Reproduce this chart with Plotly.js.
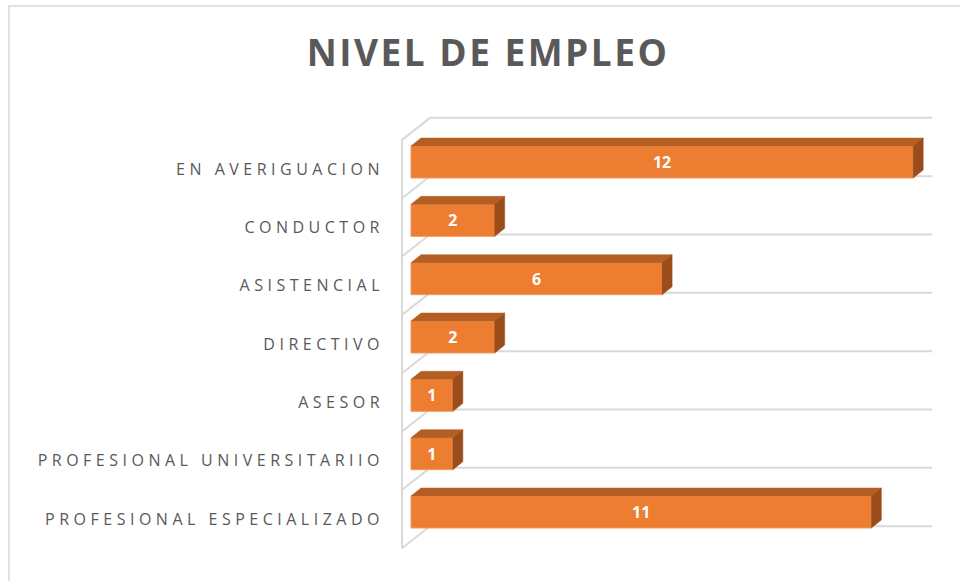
<!DOCTYPE html>
<html>
<head>
<meta charset="utf-8">
<script src="https://cdn.plot.ly/plotly-3.0.1.min.js"></script>
<style>
  html, body { margin: 0; padding: 0; background: #fff; }
  #chart { width: 960px; height: 581px; }
  .gtitle { letter-spacing: 2.5px; }
  .ytick text { letter-spacing: 4.5px; }
</style>
</head>
<body>
<div id="chart"></div>
<script>
// ---- data ----
const categories = ['PROFESIONAL ESPECIALIZADO', 'PROFESIONAL UNIVERSITARIIO', 'ASESOR', 'DIRECTIVO', 'ASISTENCIAL', 'CONDUCTOR', 'EN AVERIGUACION'];
const values = [11, 1, 1, 2, 6, 2, 12];
const axisMax = 12;
const chartTitle = 'NIVEL DE EMPLEO';

// ---- geometry (pixels, y down positive) ----
const W = 960, H = 581;
const plotLeft = 392;
const zeroPx = 411, unitPx = 41.85;
const bottomCenterPx = 512, bandPx = 58.33;
const barPx = 32;
const barDepth = { dx: 10, dy: -8 };
const wallFront = { dx: -9, dy: 7 };
const wallBack = { dx: 19, dy: -15 };

const px2x = d => d / unitPx;
const px2y = d => -d / bandPx;

const idx = categories.map((c, i) => i);
const barW = barPx / bandPx;
const bdx = px2x(barDepth.dx), bdy = px2y(barDepth.dy);
const fdx = px2x(wallFront.dx), fdy = px2y(wallFront.dy);
const kdx = px2x(wallBack.dx), kdy = px2y(wallBack.dy);

// top & side faces
const topX = [], topY = [], sideX = [], sideY = [];
idx.forEach(i => {
  const v = values[i];
  const yt = i + barW / 2, yb = i - barW / 2;
  topX.push(0, v, v + bdx, bdx, 0, null);
  topY.push(yt, yt, yt + bdy, yt + bdy, yt, null);
  sideX.push(v, v + bdx, v + bdx, v, v, null);
  sideY.push(yt, yt + bdy, yb + bdy, yb, yt, null);
});

// wall / gridline shapes
const gridColor = '#D9D9D9';
const shapes = [];
for (let k = 0; k <= categories.length; k++) {
  const b = k - 0.5;
  shapes.push({ type: 'line', xref: 'x', yref: 'y', layer: 'below',
    x0: kdx, y0: b + kdy, x1: axisMax + kdx, y1: b + kdy,
    line: { color: gridColor, width: 2 } });
  shapes.push({ type: 'line', xref: 'x', yref: 'y', layer: 'below',
    x0: fdx, y0: b + fdy, x1: kdx, y1: b + kdy,
    line: { color: gridColor, width: 2 } });
}
shapes.push({ type: 'line', xref: 'x', yref: 'y', layer: 'below',
  x0: fdx, y0: -0.5 + fdy, x1: fdx, y1: categories.length - 0.5 + fdy,
  line: { color: gridColor, width: 2 } });
// chart border
shapes.push({ type: 'rect', xref: 'paper', yref: 'paper', layer: 'below',
  x0: 9 / W, y0: -0.05, x1: 1.05, y1: 1 - 6 / H,
  line: { color: '#D9D9D9', width: 1.5 }, fillcolor: 'rgba(0,0,0,0)' });

const traces = [
  {
    type: 'bar', orientation: 'h', x: values, y: idx, width: barW, base: 0,
    marker: { color: '#ED7D31', line: { color: '#F19A5E', width: 1 } },
    text: values.map(String), textposition: 'inside', insidetextanchor: 'middle',
    textfont: { family: 'Open Sans', size: 16, color: '#FFFFFF', weight: 'bold' },
    constraintext: 'none', hoverinfo: 'skip', cliponaxis: false
  },
  {
    type: 'scatter', mode: 'lines', x: topX, y: topY, fill: 'toself',
    fillcolor: '#B55E23', line: { width: 0.5, color: '#B55E23' }, hoverinfo: 'skip'
  },
  {
    type: 'scatter', mode: 'lines', x: sideX, y: sideY, fill: 'toself',
    fillcolor: '#9A4D1B', line: { width: 0.5, color: '#9A4D1B' }, hoverinfo: 'skip'
  }
];

const layout = {
  width: W, height: H,
  margin: { l: 0, r: 0, t: 0, b: 0 },
  paper_bgcolor: '#FFFFFF', plot_bgcolor: 'rgba(0,0,0,0)',
  showlegend: false,
  title: {
    text: chartTitle, xref: 'paper', yref: 'paper',
    x: 488 / W, xanchor: 'center', y: 1 - 53 / H, yanchor: 'middle',
    font: { family: 'Open Sans', size: 37, color: '#595959', weight: 'bold' }
  },
  xaxis: {
    domain: [plotLeft / W, 1],
    range: [(plotLeft - zeroPx) / unitPx, (W - zeroPx) / unitPx],
    showgrid: false, zeroline: false, showticklabels: false, showline: false, fixedrange: true
  },
  yaxis: {
    domain: [0, 1],
    range: [(bottomCenterPx - H) / bandPx, bottomCenterPx / bandPx],
    tickmode: 'array', tickvals: idx.map(i => i + fdy), ticktext: categories,
    showgrid: false, zeroline: false, showline: false, ticks: '',
    tickfont: { family: 'Open Sans', size: 16, color: '#595959' },
    ticklabelstandoff: 7, fixedrange: true
  },
  shapes: shapes,
  bargap: 0
};

Plotly.newPlot('chart', traces, layout, { displayModeBar: false, staticPlot: true });
</script>
</body>
</html>
